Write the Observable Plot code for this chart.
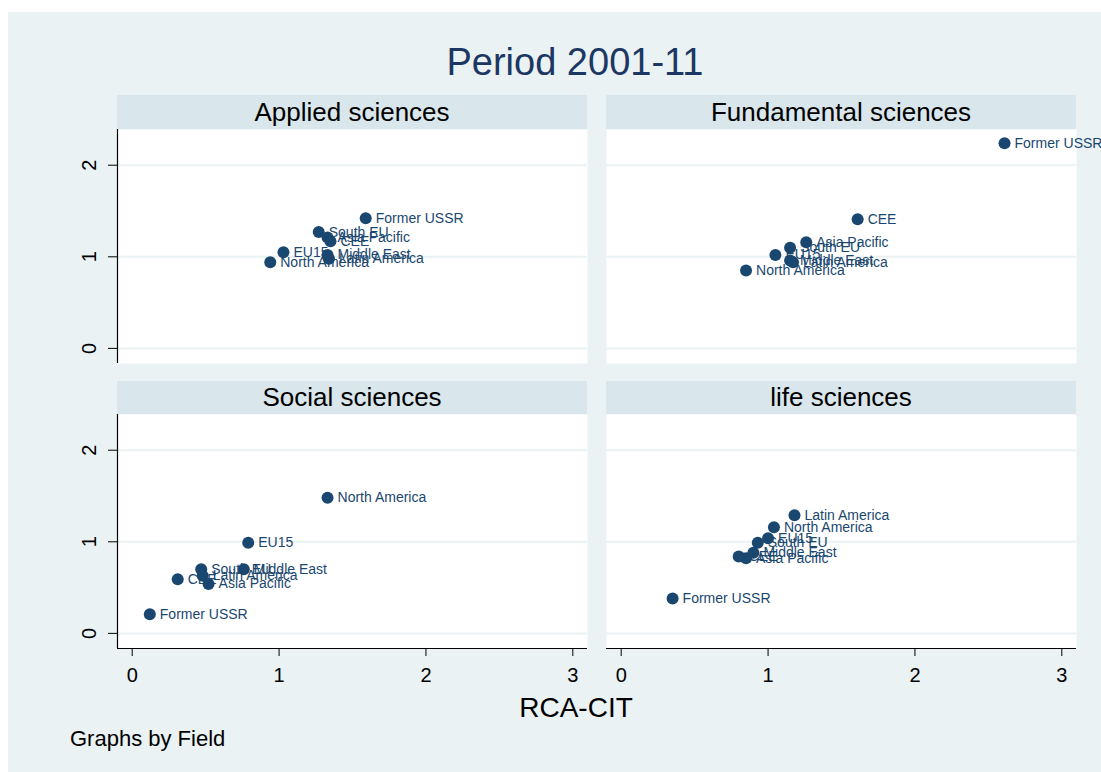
<!DOCTYPE html>
<html>
<head>
<meta charset="utf-8">
<script src="https://cdn.jsdelivr.net/npm/d3@7"></script>
<script src="https://cdn.jsdelivr.net/npm/@observablehq/plot@0.6"></script>
<style>
  html, body { margin: 0; padding: 0; background: #ffffff; }
  body { width: 1101px; height: 772px; position: relative; overflow: hidden; font-family: "Liberation Sans", Arial, sans-serif; }
  #bg { position: absolute; left: 8px; top: 12px; width: 1093px; height: 760px; background: #eaf2f3; }
  .abs { position: absolute; white-space: nowrap; }
  .strip { position: absolute; background: #d9e6eb; color: #000; font-size: 26px; text-align: center; }
  .panel { position: absolute; }
  .panel svg { overflow: visible; max-width: none; }
</style>
</head>
<body>
<div id="bg"></div>
<div class="abs" id="title" style="left:0; width:1150px; top:42px; text-align:center; font-size:38px; line-height:40px; color:#1c3764;">Period 2001-11</div>
<div id="panels"></div>
<div class="abs" style="left:0; width:1152px; top:693px; text-align:center; font-size:28px; line-height:30px; color:#000;">RCA-CIT</div>
<div class="abs" style="left:70px; top:727px; font-size:22px; line-height:23px; color:#000;">Graphs by Field</div>
<script>
// ---- data ----
const regions = ["Former USSR", "South EU", "Asia Pacific", "CEE", "EU15", "Middle East", "Latin America", "North America"];
const fields = ["Applied sciences", "Fundamental sciences", "Social sciences", "life sciences"];
// RCA-CIT (x) and vertical value (y), in the order of `regions`
const appliedX     = [1.59, 1.27, 1.33, 1.35, 1.03, 1.33, 1.34, 0.94];
const appliedY     = [1.42, 1.27, 1.21, 1.17, 1.05, 1.02, 0.98, 0.94];
const fundamentalX = [2.61, 1.15, 1.26, 1.61, 1.05, 1.15, 1.17, 0.85];
const fundamentalY = [2.24, 1.10, 1.16, 1.41, 1.02, 0.96, 0.94, 0.85];
const socialX      = [0.12, 0.47, 0.52, 0.31, 0.79, 0.76, 0.48, 1.33];
const socialY      = [0.21, 0.70, 0.54, 0.59, 0.99, 0.70, 0.63, 1.48];
const lifeX        = [0.35, 0.93, 0.85, 0.80, 1.00, 0.90, 1.18, 1.04];
const lifeY        = [0.38, 0.99, 0.82, 0.84, 1.04, 0.88, 1.29, 1.16];
const xTicks = [0, 1, 2, 3];
const yTicks = [0, 1, 2];

const seriesX = [appliedX, fundamentalX, socialX, lifeX];
const seriesY = [appliedY, fundamentalY, socialY, lifeY];

// ---- layout ----
const xDomain = [-0.1, 3.1];
const yDomain = [-0.165, 2.39];
const PW = 470, PH = 234;
const ML = 60, MR = 40, MT = 10, MB = 50;
const colLeft = [117, 606];
const rowTop = [129, 414];
const stripH = [34, 33];
const navy = "#1a476f";

const container = document.getElementById("panels");

fields.forEach((field, i) => {
  const col = i % 2, row = Math.floor(i / 2);
  const data = regions.map((r, k) => ({region: r, x: seriesX[i][k], y: seriesY[i][k]}));
  const isLeft = col === 0, isBottom = row === 1;

  const marks = [
    Plot.frame({fill: "white", stroke: "none"}),
    Plot.ruleY(yTicks, {stroke: "#eaf2f3", strokeWidth: 2})
  ];
  if (isLeft) {
    marks.push(Plot.ruleX([xDomain[0]], {stroke: "#000", strokeWidth: 1.2}));
    marks.push(Plot.axisY({ticks: yTicks, tickFormat: d => String(d), tickSize: 9, tickPadding: 13, tickRotate: -90, fontSize: 20, label: null, stroke: "#000", fill: "#000"}));
  }
  if (isBottom) {
    marks.push(Plot.ruleY([yDomain[0]], {stroke: "#000", strokeWidth: 1.2}));
    marks.push(Plot.axisX({ticks: xTicks, tickFormat: d => String(d), tickSize: 8, tickPadding: 11, fontSize: 20, label: null, stroke: "#000", fill: "#000"}));
  }
  marks.push(Plot.dot(data, {x: "x", y: "y", r: 6, fill: navy, stroke: "none"}));
  marks.push(Plot.text(data, {x: "x", y: "y", text: "region", dx: 10, textAnchor: "start", fill: navy, fontSize: 14}));

  const chart = Plot.plot({
    width: PW + ML + MR,
    height: PH + MT + MB,
    marginLeft: ML, marginRight: MR, marginTop: MT, marginBottom: MB,
    x: {domain: xDomain, axis: null},
    y: {domain: yDomain, axis: null},
    style: {background: "transparent", color: "#000", fontFamily: "'Liberation Sans', Arial, sans-serif", overflow: "visible"},
    marks
  });
  const div = document.createElement("div");
  div.className = "panel";
  div.style.left = (colLeft[col] - ML) + "px";
  div.style.top = (rowTop[row] - MT) + "px";
  div.style.width = (PW + ML + MR) + "px";
  div.appendChild(chart);
  container.appendChild(div);

  const strip = document.createElement("div");
  strip.className = "strip";
  strip.style.left = colLeft[col] + "px";
  strip.style.width = PW + "px";
  strip.style.top = (rowTop[row] - stripH[row]) + "px";
  strip.style.height = stripH[row] + "px";
  strip.style.lineHeight = stripH[row] + "px";
  strip.textContent = field;
  container.appendChild(strip);
});
</script>
</body>
</html>
